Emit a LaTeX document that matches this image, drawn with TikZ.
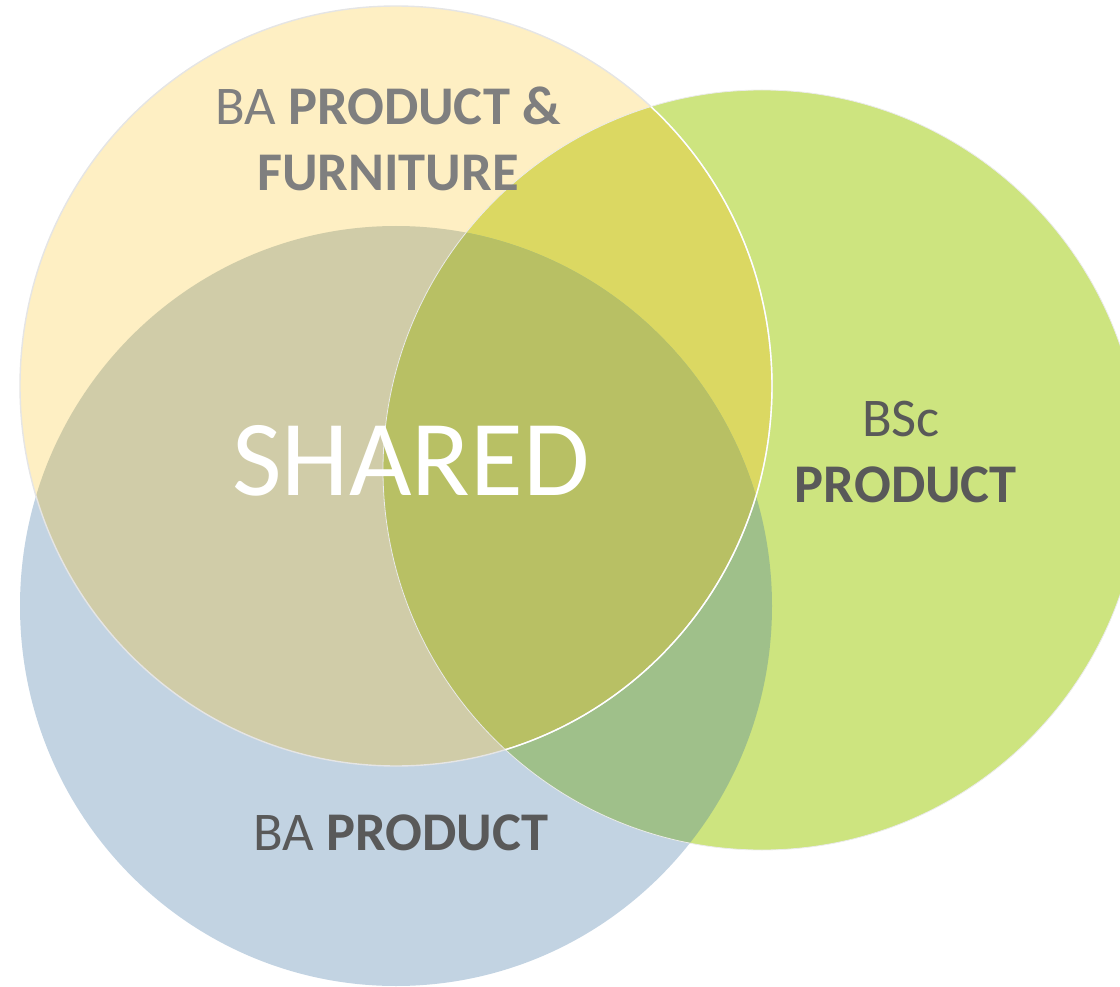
\documentclass[tikz,border=0pt]{standalone}
\usepackage{fontspec}
\setmainfont{Carlito}
\definecolor{cY}{HTML}{FEEFC3}
\definecolor{cG}{HTML}{CDE47F}
\definecolor{cB}{HTML}{C2D3E2}
\definecolor{cYB}{HTML}{D0CCA8}
\definecolor{cYG}{HTML}{DBD862}
\definecolor{cGB}{HTML}{9FC08A}
\definecolor{cYGB}{HTML}{B8C064}
\definecolor{txtlight}{HTML}{7F7F7F}
\definecolor{txtdark}{HTML}{595959}
\begin{document}
\begin{tikzpicture}[x=1pt,y=-1pt,
  lbl/.style={anchor=base,inner sep=0pt,font=\fontsize{54.5}{62}\selectfont},
  big/.style={anchor=base,inner sep=0pt,text=white,font=\fontsize{108}{120}\selectfont}]
\useasboundingbox (0,0) rectangle (1120,987);
\def\Yel{(396,386) ellipse [x radius=376pt, y radius=380pt]}
\def\Grn{(762,470) ellipse [x radius=379pt, y radius=380pt]}
\def\Blu{(396,606) ellipse [x radius=376pt, y radius=380pt]}
\fill[cB] \Blu;
\fill[cG] \Grn;
\fill[cY] \Yel;
\begin{scope}\clip \Yel; \fill[cYB] \Blu;\end{scope}
\begin{scope}\clip \Yel; \fill[cYG] \Grn;\end{scope}
\begin{scope}\clip \Grn; \fill[cGB] \Blu;\end{scope}
\begin{scope}\clip \Yel; \clip \Grn; \fill[cYGB] \Blu;\end{scope}
\draw[black!8, line width=0.8pt] \Grn;
\draw[white!90!black, line width=1.4pt] \Yel;
\begin{scope}\clip \Grn; \draw[white, line width=1.4pt] \Yel;\end{scope}
\node[lbl,text=txtlight] (t1) at (388,125) {BA \textbf{PRODUCT \&}};
\node[lbl,text=txtlight] (t2) at (388,191) {\textbf{FURNITURE}};
\node[big] (sh) at (411,495) {SHARED};
\node[lbl,text=txtdark] (b1) at (901,436) {BSc};
\node[lbl,text=txtdark] (b2) at (906,502) {\textbf{PRODUCT}};
\node[lbl,text=txtdark] (p1) at (401,850) {BA \textbf{PRODUCT}};
\end{tikzpicture}
\end{document}
